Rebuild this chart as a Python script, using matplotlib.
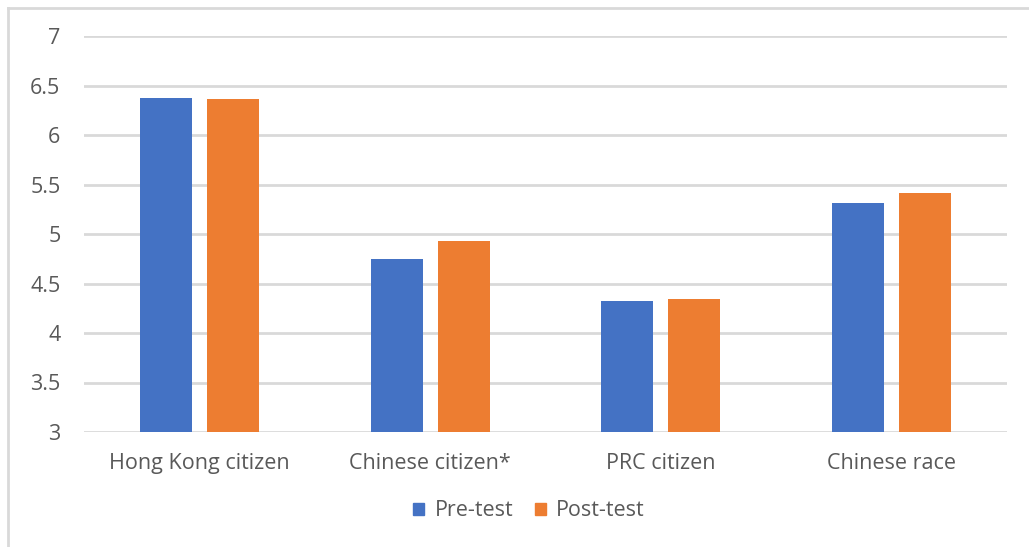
import matplotlib
matplotlib.use("Agg")
import matplotlib.pyplot as plt
from matplotlib.lines import Line2D
import numpy as np

categories = ["Hong Kong citizen", "Chinese citizen*", "PRC citizen", "Chinese race"]
pre_test = [6.37, 4.75, 4.32, 5.31]
post_test = [6.36, 4.93, 4.34, 5.41]
series_names = ["Pre-test", "Post-test"]
yticks = [3, 3.5, 4, 4.5, 5, 5.5, 6, 6.5, 7]
ytick_labels = ["3", "3.5", "4", "4.5", "5", "5.5", "6", "6.5", "7"]

BLUE = "#4472C4"
ORANGE = "#ED7D31"
TEXT = "#595959"
GRID = "#D9D9D9"

plt.rcParams["font.family"] = ["Open Sans", "DejaVu Sans"]
FS = 15.5

W, H = 1029, 547
fig = plt.figure(figsize=(W / 100, H / 100), dpi=100)
ax = fig.add_axes([84 / W, 1 - 432 / H, (1007 - 84) / W, (432 - 36) / H])

x = np.arange(len(categories))
bw = 0.2254
off = 0.1447
ax.bar(x - off, pre_test, bw, color=BLUE, label=series_names[0], zorder=3)
ax.bar(x + off, post_test, bw, color=ORANGE, label=series_names[1], zorder=3)

ax.set_xlim(-0.5, len(categories) - 0.5)
ax.set_ylim(3, 7)
ax.set_yticks(yticks)
ax.set_yticklabels(ytick_labels)
ax.set_xticks(x)
ax.set_xticklabels(categories)
ax.yaxis.grid(True, color=GRID, linewidth=2, zorder=0)
for s in ax.spines.values():
    s.set_visible(False)
ax.tick_params(axis="both", length=0, colors=TEXT, labelsize=FS)
ax.tick_params(axis="y", pad=17)
ax.tick_params(axis="x", pad=15)

handles = [plt.Rectangle((0, 0), 1, 1, color=BLUE), plt.Rectangle((0, 0), 1, 1, color=ORANGE)]
leg = fig.legend(handles, series_names, loc="center", bbox_to_anchor=(529 / W, 1 - 511 / H),
                 ncol=2, frameon=False, fontsize=FS, handlelength=0.5, handleheight=0.5,
                 handletextpad=0.5, columnspacing=1.0)
for t in leg.get_texts():
    t.set_color(TEXT)

# outer chart frame (top and left edges)
fig.add_artist(Line2D([8 / W, 1], [1 - 8 / H, 1 - 8 / H], color=GRID, linewidth=2, transform=fig.transFigure))
fig.add_artist(Line2D([8 / W, 8 / W], [0, 1 - 8 / H], color=GRID, linewidth=2, transform=fig.transFigure))

fig.savefig("out.png", dpi=100, facecolor="white")
